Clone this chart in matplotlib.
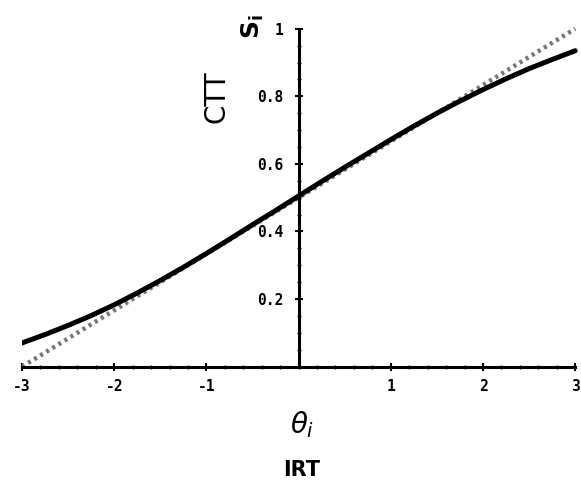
import numpy as np
import matplotlib
matplotlib.use("Agg")
import matplotlib.pyplot as plt
from matplotlib.ticker import MultipleLocator

# values
theta = [-3.0, -2.75, -2.5, -2.25, -2.0, -1.75, -1.5, -1.25, -1.0, -0.75, -0.5, -0.25,
         0.0, 0.25, 0.5, 0.75, 1.0, 1.25, 1.5, 1.75, 2.0, 2.25, 2.5, 2.75, 3.0]
irt_curve = [0.07, 0.095, 0.122, 0.151, 0.183, 0.218, 0.255, 0.294, 0.335, 0.377, 0.42, 0.462,
             0.505, 0.548, 0.59, 0.631, 0.672, 0.712, 0.75, 0.786, 0.82, 0.852, 0.882, 0.909, 0.935]
ctt_x = [-3, 3]
ctt_y = [0.0, 1.0]

x_ticks = [-3, -2, -1, 1, 2, 3]
x_tick_labels = ["-3", "-2", "-1", "1", "2", "3"]
y_ticks = [0.2, 0.4, 0.6, 0.8, 1.0]
y_tick_labels = ["0.2", "0.4", "0.6", "0.8", "1"]

fig = plt.figure(figsize=(5.81, 4.83), dpi=100)
ax = fig.add_axes([22 / 581, 1 - 370 / 483, 556 / 581, 348 / 483])

ax.plot(ctt_x, ctt_y, color="#777777", lw=3.2, ls=(0, (0.7, 0.9)), zorder=2)
ax.plot(theta, irt_curve, color="black", lw=3.6, solid_capstyle="round", zorder=3)

ax.set_xlim(-3.0, 3.03)
ax.set_ylim(-0.01, 1.02)

for s in ["top", "right"]:
    ax.spines[s].set_visible(False)
ax.spines["left"].set_position(("data", 0))
ax.spines["bottom"].set_position(("data", 0))
ax.spines["left"].set_linewidth(2.2)
ax.spines["bottom"].set_linewidth(2.2)
ax.spines["left"].set_bounds(0, 1.0)
ax.spines["bottom"].set_bounds(-3, 3)

ax.set_xticks(x_ticks)
ax.set_xticklabels(x_tick_labels)
ax.set_yticks(y_ticks)
ax.set_yticklabels(y_tick_labels)
ax.xaxis.set_minor_locator(MultipleLocator(0.2))
ax.yaxis.set_minor_locator(MultipleLocator(0.05))
ax.tick_params(which="major", direction="inout", length=6, width=1.5)
ax.tick_params(which="minor", direction="inout", length=3, width=1)
ax.tick_params(axis="x", pad=6)
ax.tick_params(axis="y", pad=8)
for lab in ax.get_xticklabels() + ax.get_yticklabels():
    lab.set_fontfamily("DejaVu Sans Mono")
    lab.set_fontweight("bold")
    lab.set_fontsize(10.5)

fig.text(217 / 581, 1 - 97 / 483, "CTT", rotation=90, ha="center", va="center",
         fontsize=20, fontfamily="DejaVu Sans")
fig.text(253 / 581, 1 - 27 / 483, r"$\mathbf{S_i}$", rotation=90, ha="center", va="center",
         fontsize=18)
fig.text(302 / 581, 1 - 425 / 483, r"$\theta_i$", ha="center", va="center", fontsize=20)
fig.text(302 / 581, 1 - 470 / 483, "IRT", ha="center", va="center",
         fontsize=15, fontfamily="DejaVu Sans", fontweight="bold")

fig.savefig("out.png", dpi=100)
